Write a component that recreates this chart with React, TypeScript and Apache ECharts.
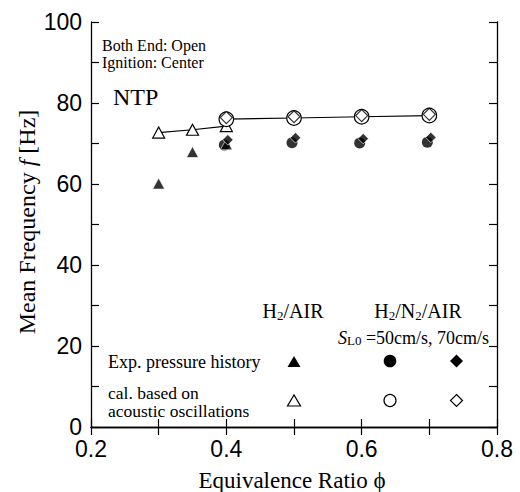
import React, { useEffect, useRef } from "react";
import * as echarts from "echarts";

// Equivalence ratio positions
const phiH2Air = [0.3, 0.35, 0.4];
const phiH2N2Air = [0.4, 0.5, 0.6, 0.7];

// Mean frequency [Hz]
const expH2Air = [60.1, 67.9, 69.8];
const calH2Air = [72.7, 73.4, 74.3];
const exp50 = [69.6, 70.2, 70.1, 70.3];
const exp70 = [70.9, 71.4, 71.2, 71.5];
const cal50 = [76.0, 76.3, 76.6, 76.9];
const cal70 = [76.4, 76.6, 76.9, 77.2];

// Axis ticks
const xTicks = [0.2, 0.4, 0.6, 0.8];
const yTicks = [0, 20, 40, 60, 80, 100];

const SERIF = "'Liberation Serif', 'Times New Roman', serif";
const SANS = "'Liberation Sans', Arial, sans-serif";

const pairs = (xs: number[], ys: number[]) => xs.map((x, i) => [x, ys[i]]);

export default function App() {
  const ref = useRef<HTMLDivElement>(null);

  useEffect(() => {
    if (!ref.current) return;
    const chart = echarts.init(ref.current, null, { renderer: "svg" });

    const axisLine = { show: true, lineStyle: { color: "#000", width: 1.3 } };
    const tickStyle = { show: true, inside: true, length: 8, lineStyle: { color: "#000", width: 1.2 } };
    const minor = { show: true, splitNumber: 2, length: 8, lineStyle: { color: "#000", width: 1.2 } };

    const open = { color: "#fff", borderColor: "#000", borderWidth: 1.2 };
    const filled = { color: "#000", borderColor: "#fff", borderWidth: 0.8 };

    // chemical formula text: subscript digits sit below the baseline
    const subRich = {
      a: { fontFamily: SERIF, fontSize: 20, lineHeight: 22, color: "#000" },
      s: { fontFamily: SERIF, fontSize: 13, lineHeight: 6, verticalAlign: "bottom", color: "#000" },
    };

    const note = (text: string, x: number, y: number, size: number) => ({
      type: "text",
      x,
      y,
      style: { text, fontFamily: SERIF, fontSize: size, lineHeight: size, fill: "#000", verticalAlign: "middle" },
    });

    chart.setOption({
      animation: false,
      backgroundColor: "#fff",
      grid: { left: 91, right: 23, top: 22, bottom: 65 },
      xAxis: [
        {
          type: "value",
          min: xTicks[0],
          max: xTicks[xTicks.length - 1],
          interval: 0.2,
          axisLine,
          axisTick: tickStyle,
          minorTick: minor,
          splitLine: { show: false },
          axisLabel: {
            margin: 10,
            fontFamily: SANS,
            fontSize: 23,
            color: "#000",
            formatter: (v: number) => v.toFixed(1),
          },
        },
        {
          type: "value",
          position: "top",
          min: xTicks[0],
          max: xTicks[xTicks.length - 1],
          interval: 0.2,
          axisLine,
          axisTick: tickStyle,
          minorTick: minor,
          splitLine: { show: false },
          axisLabel: { show: false },
        },
      ],
      yAxis: [
        {
          type: "value",
          min: yTicks[0],
          max: yTicks[yTicks.length - 1],
          interval: 20,
          axisLine,
          axisTick: tickStyle,
          minorTick: minor,
          splitLine: { show: false },
          axisLabel: { margin: 9, fontFamily: SANS, fontSize: 23, color: "#000" },
        },
        {
          type: "value",
          position: "right",
          min: yTicks[0],
          max: yTicks[yTicks.length - 1],
          interval: 20,
          axisLine,
          axisTick: tickStyle,
          minorTick: minor,
          splitLine: { show: false },
          axisLabel: { show: false },
        },
      ],
      series: [
        {
          name: "H2/AIR cal.",
          type: "line",
          data: pairs(phiH2Air, calH2Air),
          symbol: "triangle",
          symbolSize: [12, 11],
          itemStyle: open,
          lineStyle: { color: "#000", width: 1.2 },
          z: 3,
        },
        {
          name: "H2/N2/AIR 50cm/s cal.",
          type: "line",
          data: pairs(phiH2N2Air, cal50),
          symbol: "circle",
          symbolSize: 14.5,
          itemStyle: open,
          lineStyle: { color: "#000", width: 1.2 },
          z: 4,
        },
        {
          name: "H2/N2/AIR 70cm/s cal.",
          type: "scatter",
          data: pairs(phiH2N2Air, cal70),
          symbol: "diamond",
          symbolSize: 12,
          itemStyle: open,
          z: 5,
        },
        {
          name: "H2/N2/AIR 50cm/s exp.",
          type: "scatter",
          data: pairs(phiH2N2Air, exp50),
          symbol: "circle",
          symbolSize: 11,
          symbolOffset: [-2, 0],
          itemStyle: { color: "#000" },
          z: 3,
        },
        {
          name: "H2/AIR exp.",
          type: "scatter",
          data: pairs(phiH2Air, expH2Air),
          symbol: "triangle",
          symbolSize: [12, 11],
          itemStyle: filled,
          z: 4,
        },
        {
          name: "H2/N2/AIR 70cm/s exp.",
          type: "scatter",
          data: pairs(phiH2N2Air, exp70),
          symbol: "diamond",
          symbolSize: 10.5,
          symbolOffset: [1.5, 0],
          itemStyle: filled,
          z: 5,
        },
      ],
      graphic: [
        {
          type: "text",
          x: 27,
          y: 222,
          rotation: Math.PI / 2,
          style: {
            text: "{a|Mean Frequency }{i|f}{a| [Hz]}",
            align: "center",
            verticalAlign: "middle",
            rich: {
              a: { fontFamily: SERIF, fontSize: 24, color: "#000" },
              i: { fontFamily: SERIF, fontSize: 24, fontStyle: "italic", color: "#000" },
            },
          },
        },
        {
          type: "text",
          x: 292,
          y: 480,
          style: {
            text: "Equivalence Ratio ϕ",
            fontFamily: SERIF,
            fontSize: 23,
            fill: "#000",
            align: "center",
            verticalAlign: "middle",
          },
        },
        note("Both End: Open", 102, 45.5, 16),
        note("Ignition: Center", 102, 62.5, 16),
        note("NTP", 113, 97, 24),
        {
          type: "text",
          x: 293,
          y: 311,
          style: {
            text: "{a|H}{s|2}{a|/AIR}",
            align: "center",
            verticalAlign: "middle",
            rich: subRich,
          },
        },
        {
          type: "text",
          x: 418,
          y: 311,
          style: {
            text: "{a|H}{s|2}{a|/N}{s|2}{a|/AIR}",
            align: "center",
            verticalAlign: "middle",
            rich: subRich,
          },
        },
        {
          type: "text",
          x: 338,
          y: 338,
          style: {
            text: "{i|S}{s|L0}{a| =50cm/s, 70cm/s}",
            align: "left",
            verticalAlign: "middle",
            rich: {
              a: { fontFamily: SERIF, fontSize: 18, lineHeight: 18, color: "#000" },
              i: { fontFamily: SERIF, fontSize: 18, lineHeight: 18, fontStyle: "italic", color: "#000" },
              s: { fontFamily: SERIF, fontSize: 13, lineHeight: 10, verticalAlign: "bottom", color: "#000" },
            },
          },
        },
        note("Exp. pressure history", 108, 362, 18),
        note("cal. based on", 108, 392.5, 17.5),
        note("acoustic oscillations", 108, 411, 17.5),
        // key symbols
        {
          type: "polygon",
          x: 294,
          y: 362,
          shape: { points: [[-6.5, 5], [6.5, 5], [0, -6]] },
          style: { fill: "#000" },
        },
        {
          type: "circle",
          shape: { cx: 390, cy: 361, r: 6.3 },
          style: { fill: "#000" },
        },
        {
          type: "polygon",
          x: 456.5,
          y: 361,
          shape: { points: [[0, -6.5], [6.5, 0], [0, 6.5], [-6.5, 0]] },
          style: { fill: "#000" },
        },
        {
          type: "polygon",
          x: 294,
          y: 401,
          shape: { points: [[-6.5, 5], [6.5, 5], [0, -6]] },
          style: { fill: "#fff", stroke: "#000", lineWidth: 1.2 },
        },
        {
          type: "circle",
          shape: { cx: 390, cy: 400.5, r: 6 },
          style: { fill: "#fff", stroke: "#000", lineWidth: 1.2 },
        },
        {
          type: "polygon",
          x: 456.5,
          y: 400.5,
          shape: { points: [[0, -6], [6, 0], [0, 6], [-6, 0]] },
          style: { fill: "#fff", stroke: "#000", lineWidth: 1.2 },
        },
      ],
    });

    return () => chart.dispose();
  }, []);

  return <div ref={ref} style={{ width: 520, height: 492, position: "absolute", left: 0, top: 0 }} />;
}
